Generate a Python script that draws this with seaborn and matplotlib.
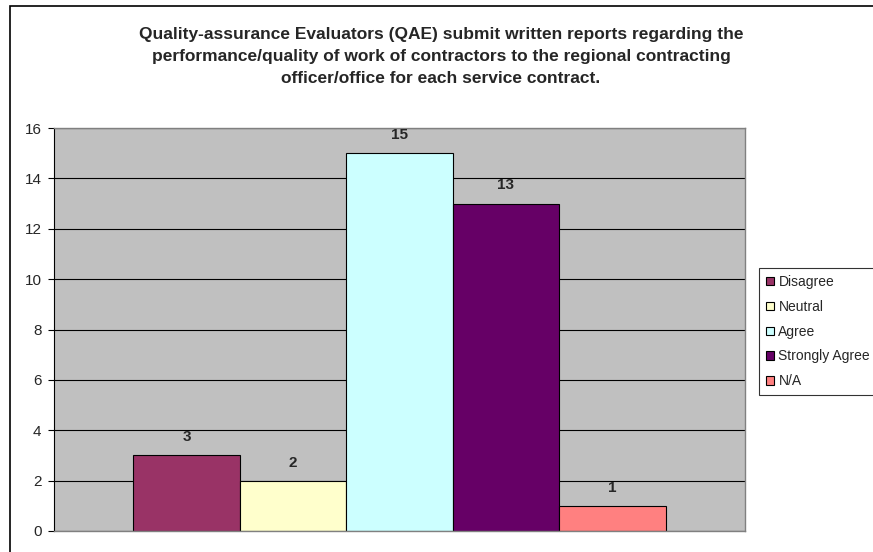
import matplotlib
matplotlib.use("Agg")
import matplotlib.pyplot as plt
import seaborn as sns
import pandas as pd
from matplotlib.patches import Rectangle

categories = ["Disagree", "Neutral", "Agree", "Strongly Agree", "N/A"]
values = [3, 2, 15, 13, 1]
colors = ["#993366", "#FFFFCC", "#CCFFFF", "#660066", "#FF8080"]
yticks = [0, 2, 4, 6, 8, 10, 12, 14, 16]
title = ("Quality-assurance Evaluators (QAE) submit written reports regarding the\n"
         "performance/quality of work of contractors to the regional contracting\n"
         "officer/office for each service contract.")

sns.set_style("white")
plt.rcParams['font.family'] = ['Liberation Sans', 'DejaVu Sans']

df = pd.DataFrame({"group": [""] * len(categories), "response": categories, "count": values})

fig = plt.figure(figsize=(8.73, 5.52), dpi=100)
ax = fig.add_axes([54/873, 1-531/552, (745-54)/873, (531-128)/552])
ax.set_facecolor("#C0C0C0")

sns.barplot(data=df, x="group", y="count", hue="response", hue_order=categories,
            palette=colors, width=0.77, gap=0, dodge=True, edgecolor="black",
            linewidth=0.8, ax=ax, legend=True, saturation=1)

ax.set_ylim(0, 16)
ax.set_xlim(-0.5, 0.5)
ax.set_yticks(yticks)
ax.set_yticklabels([str(t) for t in yticks], fontsize=11)
ax.set_xticks([])
ax.set_xlabel("")
ax.set_ylabel("")
ax.yaxis.grid(True, color="black", linewidth=0.8)
ax.set_axisbelow(True)
ax.tick_params(axis="y", which="both", left=True, length=4, width=0.8, color="black", pad=5)
for s in ["top", "right", "bottom"]:
    ax.spines[s].set_color("#808080")
    ax.spines[s].set_linewidth(1)
ax.spines["left"].set_color("black")
ax.spines["left"].set_linewidth(0.8)

for cont in ax.containers:
    ax.bar_label(cont, labels=[f"{int(v)}" for v in cont.datavalues],
                 padding=8, fontsize=11, fontweight="bold")

leg = ax.legend(loc="upper left", bbox_to_anchor=(759/873, 1-268/552),
                bbox_transform=fig.transFigure, frameon=True, fancybox=False,
                fontsize=10, handlelength=0.55, handleheight=0.55, handletextpad=0.35,
                labelspacing=0.78, borderpad=0.5, borderaxespad=0)
leg.get_frame().set_edgecolor("black")
leg.get_frame().set_linewidth(0.8)
for h in leg.legend_handles:
    h.set_edgecolor("black")
    h.set_linewidth(0.8)

fig.text(441/873, 1-27/552, title, ha="center", va="top", fontsize=12.5,
         fontweight="bold", linespacing=1.57)

fig.patches.append(Rectangle((10/873, -0.1), 1.1, 1 - 6/552 + 0.1,
                             transform=fig.transFigure, fill=False,
                             edgecolor="black", linewidth=1.2, zorder=10))

fig.savefig("out.png", dpi=100)
